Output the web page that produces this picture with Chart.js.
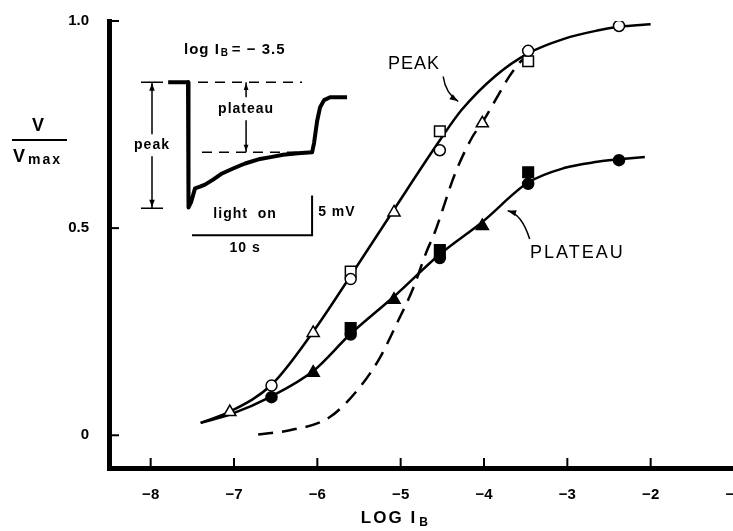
<!DOCTYPE html>
<html>
<head>
<meta charset="utf-8">
<title>Peak and plateau vs log I_B</title>
<script src="https://cdn.jsdelivr.net/npm/chart.js@4.4.1/dist/chart.umd.min.js"></script>
<style>
    html, body { margin: 0; padding: 0; background: #fff; overflow: hidden; }
    #wrap { width: 733px; height: 531px; overflow: hidden; }
</style>
</head>
<body>
<div id="wrap"><canvas id="chart" width="760" height="531"></canvas></div>
<script>
// axis ticks
var xTicks = [-8, -7, -6, -5, -4, -3, -2, -1];
var yTicks = [0, 0.5, 1.0];
var yTickLabels = ['0', '0.5', '1.0'];

// PEAK, open symbols
var peakCircleX = [-6.55, -5.6, -4.53, -3.47, -2.38];
var peakCircleY = [0.12, 0.377, 0.688, 0.928, 0.988];
var peakSquareX = [-5.6, -4.53, -3.47];
var peakSquareY = [0.395, 0.734, 0.903];
var peakTriX = [-7.05, -6.05, -5.08, -4.02];
var peakTriY = [0.056, 0.247, 0.538, 0.753];

// PLATEAU, filled symbols
var platCircleX = [-6.55, -5.6, -4.53, -3.47, -2.38];
var platCircleY = [0.092, 0.243, 0.428, 0.607, 0.664];
var platSquareX = [-5.6, -4.53, -3.47];
var platSquareY = [0.259, 0.447, 0.635];
var platTriX = [-6.05, -5.08, -4.02];
var platTriY = [0.151, 0.327, 0.505];

// drawn curves
var peakFitX = [-7.4, -7.05, -6.55, -6.05, -5.6, -5.08, -4.53, -4.27, -3.86, -3.47, -3.04, -2.64, -2.38, -2.0];
var peakFitY = [0.03, 0.057, 0.122, 0.25, 0.385, 0.545, 0.712, 0.785, 0.868, 0.922, 0.957, 0.977, 0.986, 0.992];
var platFitX = [-7.4, -7.05, -6.55, -6.05, -5.6, -5.08, -4.53, -4.02, -3.47, -3.04, -2.64, -2.38, -2.07];
var platFitY = [0.03, 0.05, 0.094, 0.155, 0.245, 0.335, 0.437, 0.515, 0.61, 0.645, 0.66, 0.666, 0.672];
var dashFitX = [-6.71, -6.33, -5.85, -5.49, -5.25, -5.05, -4.85, -4.69, -4.59, -4.35, -4.14, -4.02, -3.86, -3.7, -3.57, -3.49];
var dashFitY = [0.002, 0.012, 0.044, 0.116, 0.187, 0.268, 0.355, 0.443, 0.49, 0.63, 0.72, 0.755, 0.81, 0.865, 0.9, 0.915];

// inset voltage record (log I_B = -3.5), placed in axis units
var traceX = [-7.79, -7.552, -7.546, -7.516, -7.468, -7.408, -7.348, -7.251, -7.143, -7.011, -6.867, -6.687, -6.543, -6.411, -6.231, -6.063, -6.039, -6.003, -5.967, -5.919, -5.847, -5.643];
var traceY = [0.852, 0.852, 0.55, 0.562, 0.596, 0.6, 0.605, 0.617, 0.632, 0.644, 0.656, 0.667, 0.672, 0.677, 0.681, 0.683, 0.706, 0.758, 0.792, 0.809, 0.816, 0.816];

function pts(xs, ys) {
    return xs.map(function (x, i) { return { x: x, y: ys[i] }; });
}

var FONT = '"Liberation Sans", Arial, sans-serif';

function marker(label, xs, ys, style, filled, radius) {
    return {
        label: label,
        data: pts(xs, ys),
        showLine: false,
        pointStyle: style,
        pointRadius: radius,
        pointBackgroundColor: filled ? '#000' : '#fff',
        pointBorderColor: '#000',
        pointBorderWidth: 1.5
    };
}

function curve(label, xs, ys, dash, width) {
    return {
        label: label,
        data: pts(xs, ys),
        showLine: true,
        pointRadius: 0,
        borderColor: '#000',
        borderWidth: width,
        borderDash: dash,
        tension: 0.4,
        cubicInterpolationMode: 'monotone',
        fill: false
    };
}

function arrowHead(ctx, x, y, ang, size) {
    ctx.beginPath();
    ctx.moveTo(x, y);
    ctx.lineTo(x - size * Math.cos(ang - 0.35), y - size * Math.sin(ang - 0.35));
    ctx.lineTo(x - size * Math.cos(ang + 0.35), y - size * Math.sin(ang + 0.35));
    ctx.closePath();
    ctx.fill();
}

// ticks inside the axes, titles, inset labels and pointer arrows
var decor = {
    id: 'decor',
    afterDraw: function (chart) {
        var ctx = chart.ctx, ca = chart.chartArea;
        var X = function (v) { return chart.scales.x.getPixelForValue(v); };
        var Y = function (v) { return chart.scales.y.getPixelForValue(v); };
        ctx.save();
        ctx.strokeStyle = '#000';
        ctx.fillStyle = '#000';

        // inward ticks
        ctx.lineWidth = 2;
        xTicks.forEach(function (v) {
            ctx.beginPath();
            ctx.moveTo(X(v), ca.bottom);
            ctx.lineTo(X(v), ca.bottom - 10);
            ctx.stroke();
        });
        yTicks.forEach(function (v) {
            ctx.beginPath();
            ctx.moveTo(ca.left, Y(v));
            ctx.lineTo(ca.left + 10, Y(v));
            ctx.stroke();
        });

        // x title: LOG I_B
        ctx.textBaseline = 'middle';
        ctx.textAlign = 'left';
        ctx.font = 'bold 17px ' + FONT;
        ctx.letterSpacing = '2px';
        var t1 = 'LOG I';
        var w1 = ctx.measureText(t1).width;
        var cx = 394 - (w1 + 10) / 2;
        ctx.fillText(t1, cx, 518);
        ctx.font = 'bold 12px ' + FONT;
        ctx.fillText('B', cx + w1 + 2, 523);

        // y title: V / Vmax
        ctx.font = 'bold 18px ' + FONT;
        ctx.textAlign = 'center';
        ctx.fillText('V', 39, 126);
        ctx.lineWidth = 2;
        ctx.beginPath();
        ctx.moveTo(12, 140);
        ctx.lineTo(67, 140);
        ctx.stroke();
        ctx.textAlign = 'left';
        ctx.fillText('V', 13, 157);
        ctx.font = 'bold 14px ' + FONT;
        ctx.fillText('max', 28, 160);
        ctx.letterSpacing = '0px';

        // curve labels
        ctx.font = '18px ' + FONT;
        ctx.textAlign = 'center';
        ctx.letterSpacing = '1px';
        ctx.fillText('PEAK', X(-4.84), Y(0.895));
        ctx.letterSpacing = '2px';
        ctx.fillText('PLATEAU', X(-2.88), Y(0.44));
        ctx.letterSpacing = '0px';

        // pointer arrows
        ctx.lineWidth = 1.5;
        ctx.beginPath();
        ctx.moveTo(X(-4.49), Y(0.866));
        ctx.quadraticCurveTo(X(-4.46), Y(0.825), X(-4.31), Y(0.806));
        ctx.stroke();
        arrowHead(ctx, X(-4.31), Y(0.806), Math.atan2(Y(0.806) - Y(0.823), X(-4.31) - X(-4.44)), 9);
        ctx.beginPath();
        ctx.moveTo(X(-3.452), Y(0.474));
        ctx.quadraticCurveTo(X(-3.55), Y(0.535), X(-3.716), Y(0.542));
        ctx.stroke();
        arrowHead(ctx, X(-3.716), Y(0.542), Math.atan2(Y(0.542) - Y(0.535), X(-3.716) - X(-3.6)), 9);

        // inset: heading
        ctx.font = 'bold 15px ' + FONT;
        ctx.letterSpacing = '1px';
        ctx.textAlign = 'left';
        var hx = X(-7.6), hy = Y(0.931);
        ctx.fillText('log I', hx, hy);
        var wl = ctx.measureText('log I').width;
        ctx.font = 'bold 10px ' + FONT;
        ctx.fillText('B', hx + wl + 1, hy + 4);
        ctx.font = 'bold 15px ' + FONT;
        ctx.fillText('= \u2212 3.5', hx + wl + 12, hy);

        // inset: dashed reference levels
        ctx.lineWidth = 1.5;
        ctx.setLineDash([10, 7]);
        ctx.beginPath();
        ctx.moveTo(X(-7.432), Y(0.852));
        ctx.lineTo(X(-6.183), Y(0.852));
        ctx.moveTo(X(-7.384), Y(0.683));
        ctx.lineTo(X(-6.051), Y(0.683));
        ctx.stroke();
        ctx.setLineDash([]);

        // inset: peak bracket
        ctx.font = 'bold 14px ' + FONT;
        ctx.letterSpacing = '1px';
        var px = X(-7.984), pTop = Y(0.852), pBot = Y(0.548);
        ctx.beginPath();
        ctx.moveTo(px - 11, pTop); ctx.lineTo(px + 11, pTop);
        ctx.moveTo(px - 11, pBot); ctx.lineTo(px + 11, pBot);
        ctx.moveTo(px, pTop); ctx.lineTo(px, Y(0.70) - 11);
        ctx.moveTo(px, Y(0.70) + 11); ctx.lineTo(px, pBot);
        ctx.stroke();
        arrowHead(ctx, px, pTop + 1, -Math.PI / 2, 8);
        arrowHead(ctx, px, pBot - 1, Math.PI / 2, 8);
        ctx.textAlign = 'center';
        ctx.fillText('peak', px, Y(0.70));

        // inset: plateau bracket
        var qx = X(-6.855), qTop = Y(0.852), qBot = Y(0.683);
        ctx.beginPath();
        ctx.moveTo(qx, qTop); ctx.lineTo(qx, Y(0.787) - 12);
        ctx.moveTo(qx, Y(0.787) + 11); ctx.lineTo(qx, qBot);
        ctx.stroke();
        arrowHead(ctx, qx, qTop + 1, -Math.PI / 2, 7);
        arrowHead(ctx, qx, qBot - 1, Math.PI / 2, 7);
        ctx.fillText('plateau', qx, Y(0.787));

        // inset: scale bars
        ctx.lineWidth = 2;
        ctx.beginPath();
        ctx.moveTo(X(-7.504), Y(0.483));
        ctx.lineTo(X(-6.063), Y(0.483));
        ctx.lineTo(X(-6.063), Y(0.579));
        ctx.stroke();
        ctx.fillText('light  on', X(-6.867), Y(0.533));
        ctx.fillText('10 s', X(-6.867), Y(0.452));
        ctx.textAlign = 'left';
        ctx.fillText('5 mV', X(-5.99), Y(0.538));

        ctx.restore();
    }
};

var datasets = [
    marker('peak circles', peakCircleX, peakCircleY, 'circle', false, 5.5),
    marker('peak squares', peakSquareX, peakSquareY, 'rect', false, 7.5),
    marker('peak triangles', peakTriX, peakTriY, 'triangle', false, 7),
    marker('plateau circles', platCircleX, platCircleY, 'circle', true, 5.5),
    marker('plateau squares', platSquareX, platSquareY, 'rect', true, 7.5),
    marker('plateau triangles', platTriX, platTriY, 'triangle', true, 7),
    curve('peak curve', peakFitX, peakFitY, [], 2.5),
    curve('plateau curve', platFitX, platFitY, [], 2.5),
    curve('dashed curve', dashFitX, dashFitY, [15, 9], 2.5),
    {
        label: 'record',
        data: pts(traceX, traceY),
        showLine: true,
        pointRadius: 0,
        borderColor: '#000',
        borderWidth: 4,
        borderJoinStyle: 'round',
        tension: 0
    }
];

var ctx = document.getElementById('chart').getContext('2d');
new Chart(ctx, {
    type: 'scatter',
    data: { datasets: datasets },
    options: {
        responsive: false,
        animation: false,
        layout: { padding: { top: 17, right: 26, bottom: 0, left: 0 } },
        plugins: { legend: { display: false }, tooltip: { enabled: false } },
        scales: {
            x: {
                type: 'linear',
                min: -8.5,
                max: -1,
                afterBuildTicks: function (scale) {
                    scale.ticks = xTicks.map(function (v) { return { value: v }; });
                },
                afterFit: function (scale) { scale.height = 63; },
                ticks: {
                    autoSkip: false,
                    maxRotation: 0,
                    padding: 10,
                    color: '#000',
                    font: { family: FONT, size: 15, weight: 'bold' },
                    callback: function (value) { return '\u2212' + Math.abs(value); }
                },
                grid: { display: false },
                border: { display: true, color: '#000', width: 5 }
            },
            y: {
                type: 'linear',
                min: -0.079,
                max: 1.0,
                afterBuildTicks: function (scale) {
                    scale.ticks = yTicks.map(function (v) { return { value: v }; });
                },
                afterFit: function (scale) { scale.width = 109; },
                ticks: {
                    padding: 12,
                    color: '#000',
                    font: { family: FONT, size: 15, weight: 'bold' },
                    callback: function (value, index) { return yTickLabels[index]; }
                },
                grid: { display: false },
                border: { display: true, color: '#000', width: 5 }
            }
        }
    },
    plugins: [decor]
});
</script>
</body>
</html>
